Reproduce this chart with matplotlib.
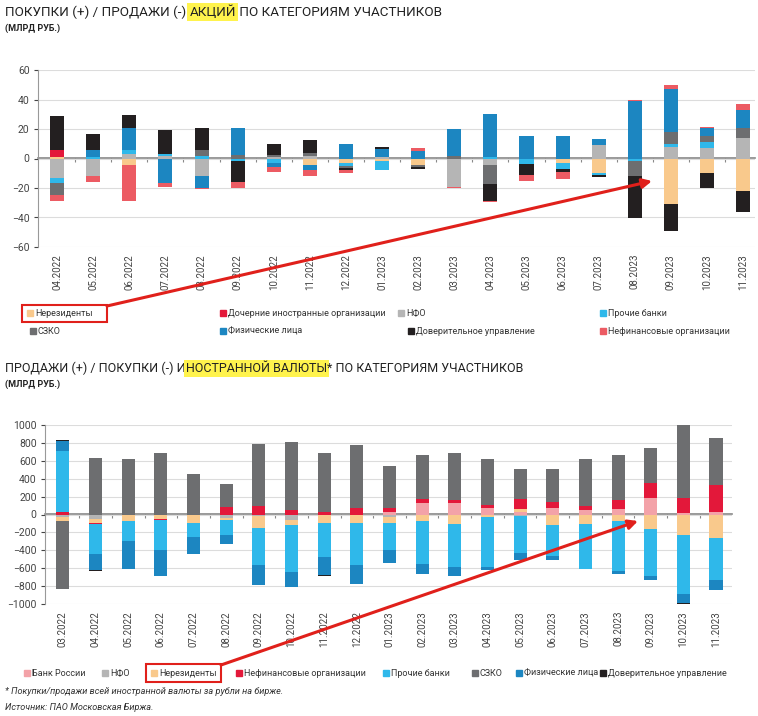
import matplotlib.pyplot as plt
import numpy as np
from matplotlib.patches import Rectangle
from matplotlib.transforms import Affine2D

plt.rcParams['font.family'] = ['Roboto', 'DejaVu Sans']

W, H = 758, 716

# ---- chart 1: shares, bn rub ----
months1 = ['04.2022', '05.2022', '06.2022', '07.2022', '08.2022', '09.2022', '10.2022',
           '11.2022', '12.2022', '01.2023', '02.2023', '03.2023', '04.2023', '05.2023',
           '06.2023', '07.2023', '08.2023', '09.2023', '10.2023', '11.2023']
nerez1 = [1, 0, -4.5, 0, 0, 0, 0, -4.3, -3, -1.5, -4.3, 0, 0, 0, -3, -10, 0, -31, -10, -22]
doch1 = [4.5, 0, 0, 0, 0, 0, 0, 0, 0, 0, 0, 0, 0, 0, 0, 0, 0, 0, 0, 0]
nfo1 = [-13.5, -12, 3, 2, -12, 0, 1, 1.8, 0, 1, 0, -19.5, -4.5, 0, 0, 9, 0, 8, 7, 14]
proch1 = [-3, 1, 3, 1, 2, -2, -3, 0, -2, -6, 0, 0, 1, -4, -4, -1.5, -2, 2, 4, 0]
szko1 = [-8.5, 0, 0, 0, 3.5, 2.5, 1.5, 1.8, -1.5, 0, -1.2, 1.8, -12.5, 0, 0, 0, -10, 8, 4, 7]
fiz1 = [0, 4.5, 14.5, -16.5, -8, 18, -2.5, -3.4, 10, 5.6, 5, 18.2, 29.5, 15, 15, 4, 39, 29, 6, 12]
dov1 = [23.5, 11, 9, 16.5, 15.5, -13.7, 7, 8.7, -1.5, 1.4, -1.3, 0, -11.6, -7, -2, -1, -28, -18, -10, -14]
nefin1 = [-3.5, -4, -24.5, -2.5, -0.5, -4.3, -3.5, -4.1, -1.5, 0, 2, -0.5, -1, -4, -5, 0, 1, 2.5, 0.5, 4]

# ---- chart 2: foreign currency, bn rub ----
months2 = ['03.2022'] + months1
bank2 = [0, 0, 0, 0, 0, 0, 0, 0, 0, 0, 30, 130, 130, 75, 30, 75, 45, 60, 180, 20, 25]
nfo2 = [-30, -50, -10, -5, 0, -35, -15, -60, -5, 0, -30, -5, 0, 0, -18, 0, 0, 0, 0, 0, 0]
nerez2 = [-40, -40, -60, -40, -100, -30, -140, -60, -95, -90, -60, -63, -105, -30, 35, -115,
          -110, -70, -165, -225, -265]
nefin2 = [25, -15, 0, -20, 0, 85, 93, 55, 25, 75, 40, 40, 35, 30, 105, 60, 45, 100, 175, 160, 300]
proch2 = [690, -335, -224, -328, -155, -160, -405, -528, -373, -476, -305, -490, -477, -560,
          -410, -345, -500, -563, -520, -665, -470]
szko2 = [-757, 626, 615, 689, 450, 255, 690, 757, 664, 703, 470, 495, 520, 520, 340, 370,
         525, 510, 385, 825, 525]
fiz2 = [110, -185, -320, -294, -188, -110, -225, -167, -205, -205, -145, -105, -100, -30,
        -82, -45, 0, -34, -50, -97, -105]
dov2 = [5, -5, 0, 0, 8, 0, 0, 0, -10, 0, 0, 0, 0, 0, 0, 0, 0, 0, 0, -10, 0]

C_NEREZ = '#F9C98C'
C_DOCH = '#E3183A'
C_NFO = '#B5B5B5'
C_PROCH = '#2FB8EA'
C_SZKO = '#6D6E70'
C_FIZ = '#1C86C1'
C_DOV = '#231F20'
C_NEFIN1 = '#EC5B63'
C_BANK = '#F3A2A8'
C_RED = '#E0201B'

fig = plt.figure(figsize=(W / 100, H / 100), dpi=100)
px = Affine2D().scale(1 / W, -1 / H).translate(0, 1) + fig.transFigure


def stacked(ax, series, colors, width):
    x = np.arange(len(series[0]))
    pos = np.zeros(len(x))
    neg = np.zeros(len(x))
    for vals, c in zip(series, colors):
        v = np.array(vals, dtype=float)
        b = np.where(v >= 0, pos, neg)
        ax.bar(x, v, width, bottom=b, color=c, linewidth=0, zorder=3)
        pos += np.clip(v, 0, None)
        neg += np.clip(v, None, 0)


def style(ax, labels, lim, step, xlim):
    n = len(labels)
    ax.set_xlim(xlim)
    ax.set_ylim(-lim, lim)
    ax.set_yticks(np.arange(-lim, lim + 1, step))
    ax.set_xticks(np.arange(n))
    ax.set_xticklabels(labels, rotation=90)
    ax.tick_params(axis='x', length=0, labelsize=7, colors='#444', pad=5)
    ax.tick_params(axis='y', length=3, labelsize=7.5, colors='#444', pad=3, width=0.8)
    for s in ['top', 'right', 'bottom']:
        ax.spines[s].set_visible(False)
    ax.spines['left'].set_color('#999')
    ax.grid(axis='y', color='#dcdcdc', lw=0.8, zorder=0)
    sec = ax.secondary_xaxis(0.5)
    sec.set_xticks(np.arange(n - 1) + 0.5)
    sec.tick_params(direction='in', length=3, color='#888', labeltop=False, labelbottom=False)
    for s in ['top', 'bottom']:
        sec.spines[s].set_color('#888')
        sec.spines[s].set_linewidth(1.2)


ax1 = fig.add_axes([38 / W, 1 - 247 / H, (755 - 38) / W, (247 - 70) / H])
stacked(ax1, [nerez1, doch1, nfo1, proch1, szko1, fiz1, dov1, nefin1],
        [C_NEREZ, C_DOCH, C_NFO, C_PROCH, C_SZKO, C_FIZ, C_DOV, C_NEFIN1], 0.39)
style(ax1, months1, 60, 20, (-0.53, 19.33))

ax2 = fig.add_axes([45 / W, 1 - 604 / H, (732 - 45) / W, (604 - 425) / H])
stacked(ax2, [bank2, nfo2, nerez2, nefin2, proch2, szko2, fiz2, dov2],
        [C_BANK, C_NFO, C_NEREZ, C_DOCH, C_PROCH, C_SZKO, C_FIZ, C_DOV], 0.40)
style(ax2, months2, 1000, 200, (-0.55, 20.49))


# titles with highlighter
def title(y, parts, size):
    r = fig.canvas.get_renderer()
    x = 5
    for txt, hl in parts:
        t = fig.text(x, y, txt, transform=px, fontsize=size, color='#222',
                     va='baseline', ha='left')
        if hl:
            t.set_bbox(dict(facecolor='#FFF34D', edgecolor='none', pad=1.5))
        bb = t.get_window_extent(r)
        x += bb.width


title(16, [('ПОКУПКИ (+) / ПРОДАЖИ (-) ', False), ('АКЦИЙ', True),
           (' ПО КАТЕГОРИЯМ УЧАСТНИКОВ', False)], 9.7)
fig.text(5, 31, '(МЛРД РУБ.)', transform=px, fontsize=6.5, color='#222', weight='bold')
title(372, [('ПРОДАЖИ (+) / ПОКУПКИ (-) И', False), ('НОСТРАННОЙ ВАЛЮТЫ', True),
            ('* ПО КАТЕГОРИЯМ УЧАСТНИКОВ', False)], 9.0)
fig.text(5, 387, '(МЛРД РУБ.)', transform=px, fontsize=6.5, color='#222', weight='bold')

narrow = ['Liberation Sans Narrow', 'Roboto', 'DejaVu Sans']


def legend_item(x, y, label, color):
    fig.patches.append(Rectangle((x, y - 3), 6, 6, transform=px, color=color))
    fig.text(x + 8, y, label, transform=px, fontsize=6.5, color='#333',
             va='center', ha='left', family=narrow)


leg1 = [('Нерезиденты', C_NEREZ, 27, 313),
        ('Дочерние иностранные организации', C_DOCH, 220, 313),
        ('НФО', C_NFO, 398, 313),
        ('Прочие банки', C_PROCH, 600, 313),
        ('СЗКО', C_SZKO, 30, 331),
        ('Физические лица', C_FIZ, 220, 331),
        ('Доверительное управление', C_DOV, 408, 331),
        ('Нефинансовые организации', C_NEFIN1, 600, 331)]
for lab, c, x, y in leg1:
    legend_item(x, y, lab, c)

leg2 = [('Банк России', C_BANK, 24), ('НФО', C_NFO, 102), ('Нерезиденты', C_NEREZ, 151),
        ('Нефинансовые организации', C_DOCH, 236), ('Прочие банки', C_PROCH, 383),
        ('СЗКО', C_SZKO, 472), ('Физические лица', C_FIZ, 516),
        ('Доверительное управление', C_DOV, 600)]
for lab, c, x in leg2:
    legend_item(x, 673, lab, c)

fig.text(5, 692, '* Покупки/продажи всей иностранной валюты за рубли на бирже.', transform=px,
         fontsize=6.6, style='italic', color='#333', va='center', family=narrow)
fig.text(5, 707, 'Источник: ПАО Московская Биржа.', transform=px,
         fontsize=6.6, style='italic', color='#333', va='center', family=narrow)

# red call-outs
fig.patches.append(Rectangle((22, 305), 85, 17, transform=px, fill=False, ec=C_RED, lw=1.5))
fig.patches.append(Rectangle((146, 664), 75, 18, transform=px, fill=False, ec=C_RED, lw=1.5))
fig.add_artist(plt.Annotation('', xy=(652, 181), xytext=(107, 306), xycoords=px, textcoords=px,
                              arrowprops=dict(arrowstyle='-|>', color=C_RED, lw=2.2,
                                              mutation_scale=14, shrinkA=0, shrinkB=0)))
fig.add_artist(plt.Annotation('', xy=(638, 521), xytext=(221, 665), xycoords=px, textcoords=px,
                              arrowprops=dict(arrowstyle='-|>', color=C_RED, lw=2.2,
                                              mutation_scale=14, shrinkA=0, shrinkB=0)))

fig.savefig('out.png', dpi=100, facecolor='white')
